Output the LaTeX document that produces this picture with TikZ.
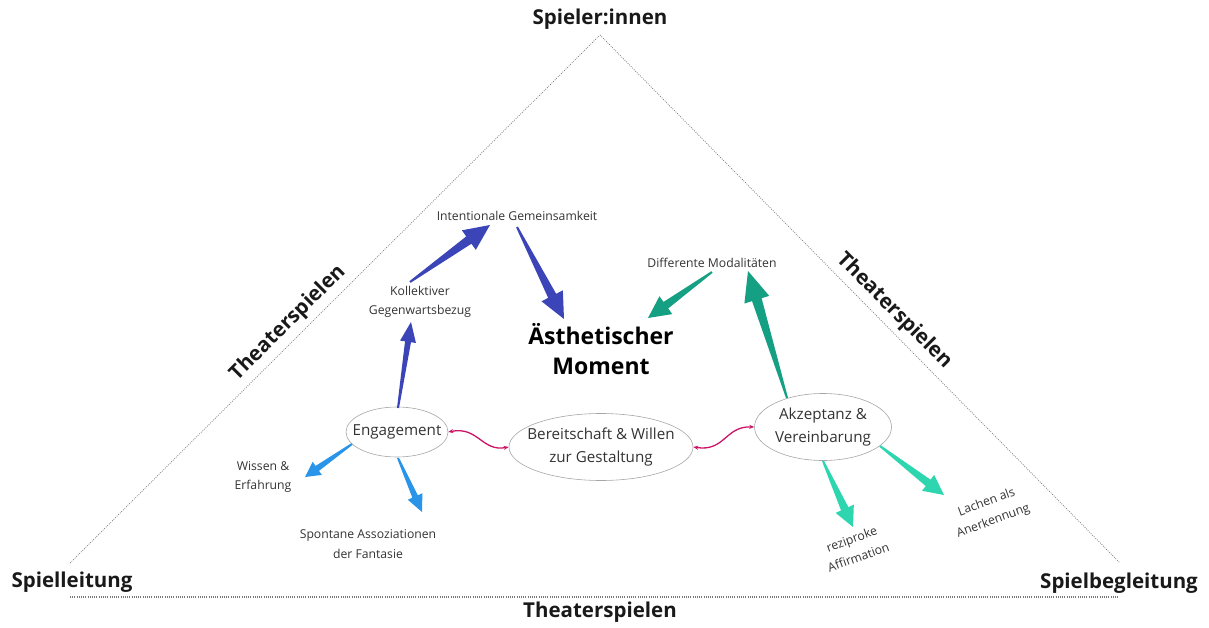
\documentclass[tikz,border=0pt]{standalone}
\usepackage{fontspec}
\setmainfont{Open Sans}
\usetikzlibrary{calc,arrows.meta,shapes.geometric}
\definecolor{dblue}{HTML}{3B45B8}
\definecolor{lblue}{HTML}{2A95E8}
\definecolor{dgreen}{HTML}{16A083}
\definecolor{mint}{HTML}{2ED6AF}
\definecolor{magent}{HTML}{CC1466}
\definecolor{txt}{HTML}{333333}
\definecolor{dotgray}{HTML}{777777}
\newcommand{\wedgearr}[7]{%
  \coordinate (wH) at ($(#3)!#7!(#2)$);
  \fill[#1] ($(#2)!#4!90:(#3)$) -- ($(wH)!#5!90:(#3)$) -- ($(wH)!#6!90:(#3)$) -- (#3)
    -- ($(wH)!#6!-90:(#3)$) -- ($(wH)!#5!-90:(#3)$) -- ($(#2)!#4!-90:(#3)$) -- cycle;}
\tikzset{
  corner/.style={font=\bfseries\fontsize{20.5}{24}\selectfont, text=black!90},
  small/.style={font=\fontsize{12.2}{19.5}\selectfont, text=txt, align=center, inner sep=1pt},
  oval/.style={ellipse, draw=black!35, line width=0.6pt, inner sep=0pt, text=txt,
    font=\fontsize{15.2}{23.5}\selectfont, align=center},
  side/.style={dotgray, line width=0.7pt, dash pattern=on 0.9pt off 1.3pt},
  link/.style={magent, line width=1.3pt, {Stealth[length=5pt,width=4pt]}-{Stealth[length=5pt,width=4pt]}}
}
\begin{document}
\begin{tikzpicture}[x=1pt,y=-1pt]
\useasboundingbox (0,0) rectangle (1209,628);
% triangle
\coordinate (apex) at (600,35);
\coordinate (bl) at (70,563);
\coordinate (br) at (1120,563);
\coordinate (bbl) at (70,597);
\coordinate (bbr) at (1118,597);
\draw[side] (bl) -- (apex) -- (br);
\draw[side, line width=1.3pt] (bbl) -- (bbr);
% corner labels
\node[corner] (sp) at (600,19) {Spieler:innen};
\node[corner] (sl) at (72,582) {Spielleitung};
\node[corner] (sb) at (1119,583) {Spielbegleitung};
\node[corner] (tb) at (600,612) {Theaterspielen};
\node[corner, rotate=45] (tl) at (288,323) {Theaterspielen};
\node[corner, rotate=-45] (tr) at (894,311) {Theaterspielen};
% centre
\node[font=\bfseries\fontsize{23}{30}\selectfont, align=center] (am) at (601,349) {Ästhetischer\\Moment};
% ovals
\node[oval, inner xsep=-8.5pt, minimum width=102pt, minimum height=50pt] (eng) at (397,432) {Engagement};
\node[oval, inner xsep=-9pt, minimum width=184pt, minimum height=67pt] (ber) at (601,447) {Bereitschaft \& Willen\\zur Gestaltung};
\node[oval, inner xsep=-0.5pt, minimum width=137pt, minimum height=67pt] (akz) at (823,427) {Akzeptanz \&\\Vereinbarung};
% small labels
\node[small] (ig) at (517,216) {Intentionale Gemeinsamkeit};
\node[small] (kg) at (420,302) {Kollektiver\\Gegenwartsbezug};
\node[small] (dm) at (712,263) {Differente Modalitäten};
\node[small] (we) at (263,477) {Wissen \&\\Erfahrung};
\node[small] (sa) at (368,544) {Spontane Assoziationen\\der Fantasie};
\node[small, rotate=20] (ra) at (855,548) {reziproke\\Affirmation};
\node[small, rotate=20] (la) at (990,512) {Lachen als\\Anerkennung};
% arrow end points
\coordinate (a1s) at (398,408); \coordinate (a1e) at (411,322);
\coordinate (a2s) at (410,282); \coordinate (a2e) at (490,225);
\coordinate (a3s) at (517,227); \coordinate (a3e) at (564,319);
\coordinate (a4s) at (712,272); \coordinate (a4e) at (648,318);
\coordinate (a5s) at (787,398); \coordinate (a5e) at (748,271);
\coordinate (a6s) at (352,444); \coordinate (a6e) at (305,477);
\coordinate (a7s) at (398,458); \coordinate (a7e) at (422,512);
\coordinate (a8s) at (823,461); \coordinate (a8e) at (853,527);
\coordinate (a9s) at (880,446); \coordinate (a9e) at (944,495);
% wedge arrows
\wedgearr{dblue}{a1s}{a1e}{1pt}{3pt}{8pt}{20pt}
\wedgearr{dblue}{a2s}{a2e}{1pt}{4.5pt}{12pt}{26pt}
\wedgearr{dblue}{a3s}{a3e}{1pt}{4.5pt}{12pt}{26pt}
\wedgearr{dgreen}{a4s}{a4e}{1pt}{4pt}{11pt}{22pt}
\wedgearr{dgreen}{a5s}{a5e}{1pt}{5pt}{13pt}{30pt}
\wedgearr{lblue}{a6s}{a6e}{1pt}{3pt}{8pt}{15pt}
\wedgearr{lblue}{a7s}{a7e}{1pt}{3pt}{8pt}{17pt}
\wedgearr{mint}{a8s}{a8e}{1pt}{4pt}{10pt}{20pt}
\wedgearr{mint}{a9s}{a9e}{1pt}{4pt}{10pt}{20pt}
% magenta links
\draw[link] (eng.east) .. controls (478,426) and (482,452) .. (ber.west);
\draw[link] (ber.east) .. controls (725,452) and (725,426) .. (akz.west);
\end{tikzpicture}
\end{document}
